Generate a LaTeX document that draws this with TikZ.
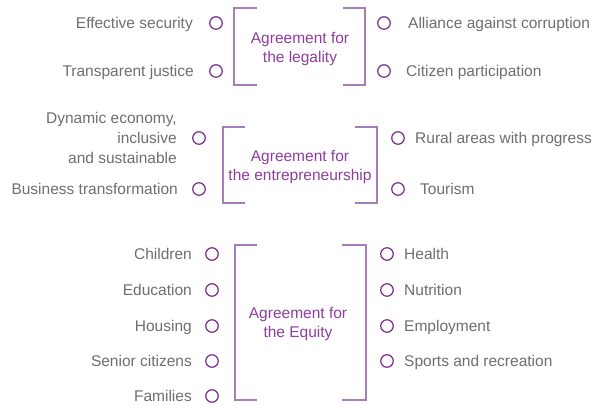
\documentclass[tikz,border=0pt]{standalone}
\usepackage{fontspec}
\setmainfont{Liberation Sans}
\usepackage{xcolor}
\usepackage{tikz}
\usetikzlibrary{positioning}

\definecolor{itemgray}{HTML}{6E6E6E}
\definecolor{agreepurple}{HTML}{8E3C9E}
\definecolor{bracketpurple}{HTML}{A77DBA}
\definecolor{dotpurple}{HTML}{7A2E8C}

\tikzset{
  item/.style={text=itemgray, font=\fontsize{15.5}{20}\selectfont, inner sep=0pt, text height=11pt, text depth=0pt},
  itemblock/.style={text=itemgray, font=\fontsize{15.5}{20}\selectfont, inner sep=0pt, align=right},
  dot/.style={circle, draw=dotpurple, line width=1.2pt, minimum size=12.5pt, inner sep=0pt},
  agree/.style={text=agreepurple, font=\fontsize{15.5}{19.5}\selectfont, inner sep=0pt, align=center},
  brace/.style={draw=bracketpurple, line width=1.7pt},
}

\begin{document}
\begin{tikzpicture}[x=1pt, y=-1pt]
\useasboundingbox (0, 0) rectangle (594, 406);

\draw[brace] (257, 8) -- (234, 8) -- (234, 85) -- (257, 85);
\draw[brace] (343, 8) -- (365, 8) -- (365, 85) -- (343, 85);
\node[agree] (legality) at (300, 49) {Agreement for\\the legality};
\node[dot] (security) at (216, 23) {};
\node[dot] (justice) at (216, 71) {};
\node[dot] (corruption) at (384, 23) {};
\node[dot] (citizen) at (384, 71) {};
\node[item, anchor=east] (securitytxt) at (193, 23) {Effective security};
\node[item, anchor=east] (justicetxt) at (194, 71) {Transparent justice};
\node[item, anchor=west] (corruptiontxt) at (408, 23) {Alliance against corruption};
\node[item, anchor=west] (citizentxt) at (406, 71) {Citizen participation};

\draw[brace] (245, 127) -- (223, 127) -- (223, 203) -- (245, 203);
\draw[brace] (355, 127) -- (377, 127) -- (377, 203) -- (355, 203);
\node[agree] (entrepreneurship) at (300, 167) {Agreement for\\the entrepreneurship};
\node[dot] (economy) at (199, 138) {};
\node[dot] (business) at (199, 189) {};
\node[dot] (rural) at (398, 138) {};
\node[dot] (tourism) at (398, 189) {};
\node[itemblock, anchor=east] (economytxt) at (177, 138) {Dynamic economy,\\inclusive\\and sustainable};
\node[item, anchor=east] (businesstxt) at (178, 189) {Business transformation};
\node[item, anchor=west] (ruraltxt) at (415, 138) {Rural areas with progress};
\node[item, anchor=west] (tourismtxt) at (420, 189) {Tourism};

\draw[brace] (257, 245) -- (235, 245) -- (235, 400) -- (257, 400);
\draw[brace] (342, 245) -- (366, 245) -- (366, 400) -- (342, 400);
\node[agree] (equity) at (298, 324) {Agreement for\\the Equity};
\node[dot] (children) at (212, 254) {};
\node[dot] (education) at (212, 290) {};
\node[dot] (housing) at (212, 326) {};
\node[dot] (senior) at (212, 361) {};
\node[dot] (families) at (212, 396) {};
\node[item, anchor=east] (childrentxt) at (192, 254) {Children};
\node[item, anchor=east] (educationtxt) at (192, 290) {Education};
\node[item, anchor=east] (housingtxt) at (192, 326) {Housing};
\node[item, anchor=east] (seniortxt) at (192, 361) {Senior citizens};
\node[item, anchor=east] (familiestxt) at (192, 396) {Families};
\node[dot] (health) at (387, 254) {};
\node[dot] (nutrition) at (387, 290) {};
\node[dot] (employment) at (387, 326) {};
\node[dot] (sports) at (387, 361) {};
\node[item, anchor=west] (healthtxt) at (404, 254) {Health};
\node[item, anchor=west] (nutritiontxt) at (404, 290) {Nutrition};
\node[item, anchor=west] (employmenttxt) at (404, 326) {Employment};
\node[item, anchor=west] (sportstxt) at (404, 361) {Sports and recreation};
\end{tikzpicture}
\end{document}
